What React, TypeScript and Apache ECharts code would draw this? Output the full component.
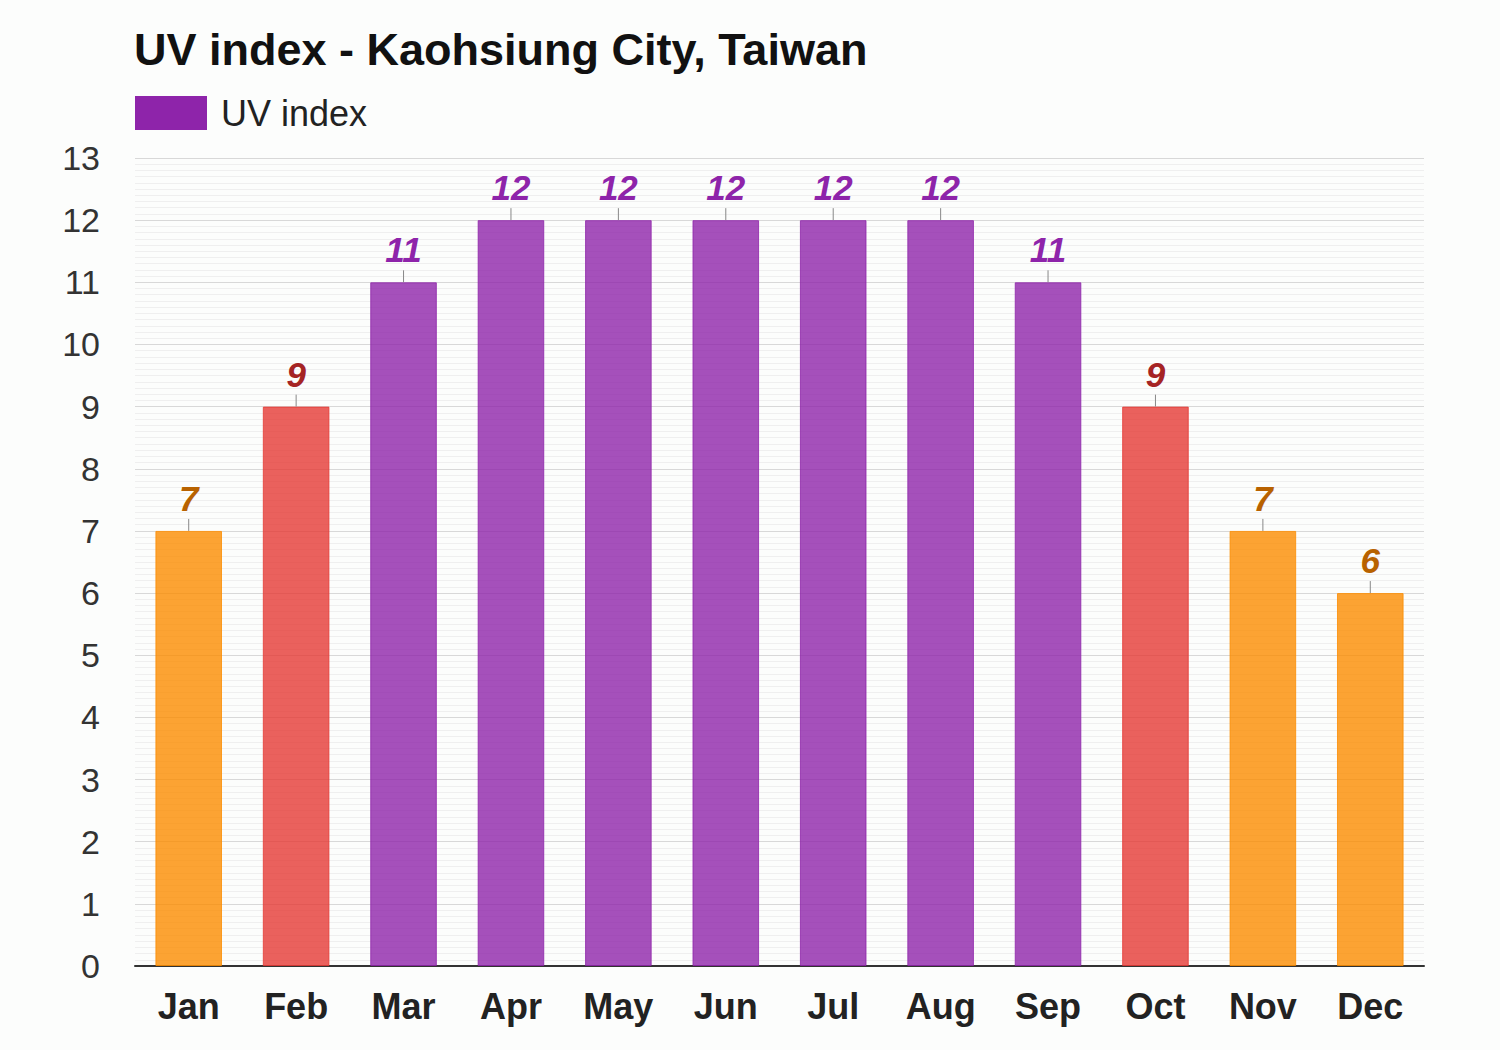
import React, { useEffect, useRef } from "react";
import * as echarts from "echarts";

const months = ["Jan", "Feb", "Mar", "Apr", "May", "Jun", "Jul", "Aug", "Sep", "Oct", "Nov", "Dec"];
const uvValues = [7, 9, 11, 12, 12, 12, 12, 12, 11, 9, 7, 6];
const yTicks = [0, 1, 2, 3, 4, 5, 6, 7, 8, 9, 10, 11, 12, 13];

const barColor = (v: number) => (v >= 11 ? "rgba(142,36,170,0.8)" : v >= 8 ? "rgba(229,57,53,0.8)" : "rgba(251,140,0,0.8)");
const labelColor = (v: number) => (v >= 11 ? "#8e24aa" : v >= 8 ? "#a52424" : "#b86200");

export default function App() {
  const ref = useRef<HTMLDivElement>(null);
  useEffect(() => {
    document.body.style.margin = "0";
    const chart = echarts.init(ref.current!, null, { renderer: "svg" });
    const font = "'Liberation Sans', Arial, sans-serif";
    chart.setOption({
      animation: false,
      backgroundColor: "#fcfdfc",
      textStyle: { fontFamily: font },
      title: {
        text: "UV index - Kaohsiung City, Taiwan",
        left: 129,
        top: 22,
        textStyle: { fontSize: 45, fontWeight: "bold", color: "#111", fontFamily: font },
      },
      legend: {
        left: 135,
        top: 95,
        padding: 0,
        itemWidth: 72,
        itemHeight: 34,
        itemGap: 10,
        icon: "rect",
        textStyle: { fontSize: 36, color: "#222", fontFamily: font, padding: [0, 0, 0, 9] },
        data: [{ name: "UV index", itemStyle: { color: "#8e24aa" } }],
      },
      grid: { left: 135, right: 76, top: 158, bottom: 84, containLabel: false },
      xAxis: {
        type: "category",
        data: months,
        axisLine: { lineStyle: { color: "#333", width: 2 } },
        axisTick: { show: false },
        axisLabel: { fontSize: 36, fontWeight: "bold", color: "#222", margin: 22, fontFamily: font },
      },
      yAxis: {
        type: "value",
        min: yTicks[0],
        max: yTicks[yTicks.length - 1],
        interval: 1,
        axisLine: { show: false },
        axisTick: { show: false },
        axisLabel: { fontSize: 34, color: "#333", margin: 35, fontFamily: font },
        splitLine: { lineStyle: { color: "#d8d8d8", width: 1 } },
        minorTick: { show: false, splitNumber: 10 },
        minorSplitLine: { show: true, lineStyle: { color: "#efefef", width: 1 } },
      },
      series: [
        {
          name: "UV index",
          type: "bar",
          barWidth: "62%",
          data: uvValues.map((v) => ({
            value: v,
            itemStyle: { color: barColor(v), borderColor: barColor(v), borderWidth: 1 },
            label: { color: labelColor(v) },
          })),
          label: {
            show: true,
            position: "top",
            distance: 15,
            fontSize: 35,
            fontWeight: "bold",
            fontStyle: "italic",
            fontFamily: font,
          },
        },
        {
          name: "ticks",
          type: "custom",
          silent: true,
          data: uvValues.map((v, i) => [i, v]),
          renderItem: (params: any, api: any) => {
            const p = api.coord([api.value(0), api.value(1)]);
            return {
              type: "line",
              shape: { x1: p[0], y1: p[1], x2: p[0], y2: p[1] - 12 },
              style: { stroke: "#888", lineWidth: 1 },
            };
          },
          z: 5,
        },
      ],
    });
    return () => chart.dispose();
  }, []);
  return <div ref={ref} style={{ width: 1500, height: 1050 }} />;
}
